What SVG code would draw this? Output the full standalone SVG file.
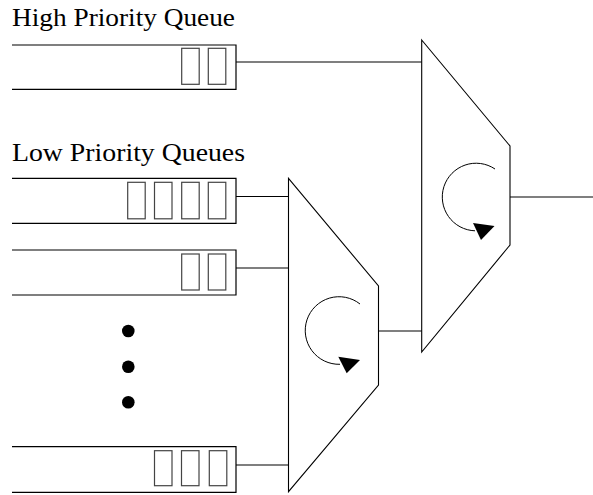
<svg xmlns="http://www.w3.org/2000/svg" width="593" height="495" viewBox="0 0 593 495">
<style>
.q{fill:none;stroke:#000;stroke-width:1.2}
.b{fill:#fff;stroke:#444;stroke-width:1.2}
.m{fill:#fff;stroke:#000;stroke-width:1.1}
.c{fill:none;stroke:#000;stroke-width:1}
.a{fill:#000;stroke:none}
.t{font-family:"Liberation Serif","Times New Roman",serif;font-size:26px;fill:#000}
</style>
<rect width="593" height="495" fill="#fff"/>
<text class="t" x="12" y="26" textLength="223" lengthAdjust="spacingAndGlyphs">High Priority Queue</text>
<text class="t" x="12" y="161" textLength="233" lengthAdjust="spacingAndGlyphs">Low Priority Queues</text>
<g id="connectors">
<line class="q" x1="236" y1="62" x2="422" y2="62"/>
<line class="q" x1="236" y1="196.5" x2="288.5" y2="196.5"/>
<line class="q" x1="236" y1="268" x2="288.5" y2="268"/>
<line class="q" x1="236" y1="465" x2="288.5" y2="465"/>
<line class="q" x1="378.5" y1="331" x2="422" y2="331"/>
<line class="q" x1="510" y1="197" x2="593" y2="197"/>
</g>
<g id="hq">
<path class="q" d="M12 45H236V89.3H12"/>
<rect class="b" x="181.7" y="48.3" width="17.5" height="36"/>
<rect class="b" x="208.3" y="48.3" width="17.5" height="36"/>
</g>
<g id="lq1">
<path class="q" d="M12 178.3H236V223.3H12"/>
<rect class="b" x="127.7" y="182.3" width="17.5" height="36.5"/>
<rect class="b" x="154.5" y="182.3" width="17.5" height="36.5"/>
<rect class="b" x="181.7" y="182.3" width="17.5" height="36.5"/>
<rect class="b" x="208.3" y="182.3" width="17.5" height="36.5"/>
</g>
<g id="lq2">
<path class="q" d="M12 250H236V295H12"/>
<rect class="b" x="181.7" y="254" width="17.5" height="36"/>
<rect class="b" x="208.3" y="254" width="17.5" height="36"/>
</g>
<g id="dots">
<circle cx="128.3" cy="331" r="6.3"/>
<circle cx="128.3" cy="366.7" r="6.3"/>
<circle cx="128.3" cy="402.3" r="6.3"/>
</g>
<g id="lq3">
<path class="q" d="M12 446.7H236V492.3H12"/>
<rect class="b" x="154.5" y="450.7" width="17.5" height="35"/>
<rect class="b" x="181.5" y="450.7" width="17.5" height="35"/>
<rect class="b" x="209.3" y="450.7" width="17.5" height="35"/>
</g>
<g id="mux-low">
<path class="m" d="M288.5 178.3L378.5 286V385L288.5 491.7Z"/>
<path class="c" d="M360 304 A33.8 33.8 0 1 0 340 364.3"/>
<polygon class="a" points="338.3,356.7 360,360 346.7,373.3"/>
</g>
<g id="mux-high">
<path class="m" d="M421.7 40L510 146V245L421.7 352Z"/>
<path class="c" d="M495 169 A33.8 33.8 0 1 0 475 230.8"/>
<polygon class="a" points="473,223 494.5,226 481,240"/>
</g>
</svg>
